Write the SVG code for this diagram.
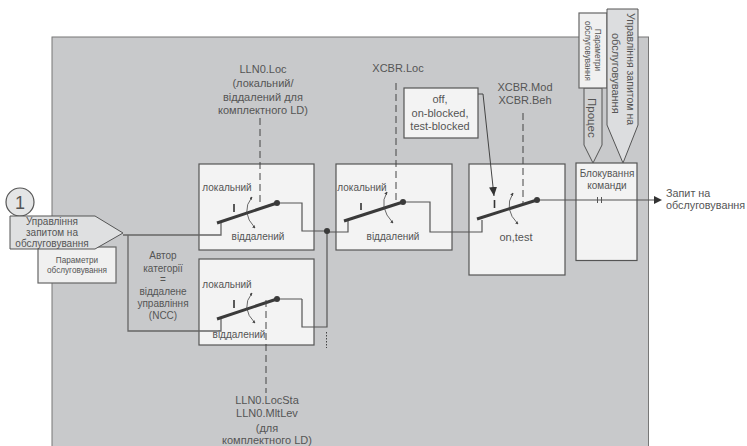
<svg xmlns="http://www.w3.org/2000/svg" width="747" height="446" viewBox="0 0 747 446">
<style>
text{font-family:"Liberation Sans",Arial,sans-serif;font-size:11px;fill:#555;text-anchor:middle}
.b{font-size:10px}
.s{font-size:8.200px}
.box{fill:#f3f3f3;stroke:#555;stroke-width:1.2}
.w{fill:none;stroke:#555;stroke-width:1.2}
.dash{fill:none;stroke:#444;stroke-width:1;stroke-dasharray:7 4}
.blade{stroke:#3a3a3a;stroke-width:3;fill:none}
.dot{fill:#3a3a3a}
.arc{fill:none;stroke:#444;stroke-width:.8;marker-start:url(#sa);marker-end:url(#sa)}
.bar{stroke:#333;stroke-width:1.6}
</style>
<defs>
<marker id="sa" viewBox="0 0 6 6" refX="5" refY="3" markerWidth="4" markerHeight="4" orient="auto-start-reverse"><path d="M0 0L6 3L0 6Z" fill="#444"/></marker>
<marker id="big" viewBox="0 0 9 8" refX="9" refY="4" markerWidth="9" markerHeight="8" markerUnits="userSpaceOnUse" orient="auto"><path d="M0 0L9 4L0 8Z" fill="#333"/></marker>
</defs>
<rect id="panel" x="52" y="37" width="596.500" height="410" fill="#c8c9cb" stroke="#777" stroke-width="1"/>

<g id="box-loc"><rect class="box" x="199" y="164" width="115" height="86"/>
<text class="b" x="227" y="191">локальний</text><text class="b" x="258" y="240">віддалений</text></g>
<g id="box-ncc"><rect class="box" x="199" y="259" width="115" height="86"/>
<text class="b" x="227" y="288">локальний</text><text class="b" x="239" y="338">віддалений</text></g>
<g id="box-xcbr-loc"><rect class="box" x="336" y="164" width="116" height="86"/>
<text class="b" x="362" y="190.500">локальний</text><text class="b" x="393" y="240">віддалений</text></g>
<g id="box-mod"><rect class="box" x="469" y="164" width="96" height="111"/>
<text x="516" y="241">on,test</text></g>
<g id="box-block"><rect class="box" x="576" y="163" width="61" height="97.500"/>
<text class="b" x="607" y="177">Блокування</text><text class="b" x="607" y="188.500">команди</text></g>

<g id="connectors">
<path d="M123 235H221V223M128 235V331H221V319" fill="none" stroke="#666" stroke-width="1.300"/>
<path class="w" d="M277 203H302V231H327M302 299H277M302 299V327H327V231M327 232H348V221M403 202H430V232H482V220M537 200H654"/>
<path d="M654 196L662 200L654 204Z" fill="#333"/>
<path d="M597.500 197V203M601.500 197V203" stroke="#555" stroke-width="1" fill="none"/>
<path class="blade" d="M217 223L277 203"/><circle class="dot" cx="277" cy="203" r="3"/>
<path class="blade" d="M217 319L277 299"/><circle class="dot" cx="277" cy="299" r="3"/>
<path class="blade" d="M344 221L403 202"/><circle class="dot" cx="403" cy="202" r="3"/>
<path class="blade" d="M477 219L537 200"/><circle class="dot" cx="537" cy="200" r="3"/>
<circle class="dot" cx="327" cy="231" r="3"/>
<path class="bar" d="M234 204V212M234 300V308M361 203V210M494.500 200V208"/>
<path class="arc" d="M252 197Q240 212 255 228"/>
<path class="arc" d="M252 293Q240 308 255 323"/>
<path class="arc" d="M387 192Q378 207 393 223"/>
<path class="arc" d="M513 193Q503 209 518 224"/>
<path class="dash" d="M260 118V203"/>
<path class="dash" d="M266 300V393"/>
<path class="dash" d="M396 83V204"/>
<path class="dash" d="M523 113V204"/>
<path d="M326.500 332V348" fill="none" stroke="#444" stroke-width="1" stroke-dasharray="1.500 1.500"/>
<path d="M478 94H483L494 196" fill="none" stroke="#444" stroke-width="1" marker-end="url(#big)"/>
</g>

<g id="note-off"><rect x="404" y="88" width="74" height="50" fill="#f3f3f3" stroke="#555" stroke-width="1.200"/>
<text x="440" y="103">off,</text><text x="440" y="117">on-blocked,</text><text x="440" y="130">test-blocked</text></g>

<g id="label-lln0-loc"><text x="263" y="73">LLN0.Loc</text><text x="263" y="87">(локальний/</text><text x="263" y="101">віддалений для</text><text x="263" y="114">комплектного LD)</text></g>
<g id="label-xcbr-loc"><text x="398" y="72">XCBR.Loc</text></g>
<g id="label-xcbr-mod"><text x="525" y="91">XCBR.Mod</text><text x="525" y="104">XCBR.Beh</text></g>
<g id="label-lln0-locsta"><text x="267" y="404">LLN0.LocSta</text><text x="267" y="417">LLN0.MltLev</text><text x="267" y="432">(для</text><text x="267" y="444">комплектного LD)</text></g>
<g id="label-author"><text class="b" x="163" y="259">Автор</text><text class="b" x="163" y="272">категорії</text><text class="b" x="163" y="283">=</text><text class="b" x="163" y="295">віддалене</text><text class="b" x="163" y="307">управління</text><text class="b" x="163" y="319">(NCC)</text></g>

<g id="circle-1"><circle cx="20" cy="202" r="14" fill="#e4e5e6" stroke="#555" stroke-width="1.200"/><text x="20" y="208.500" style="font-size:18px">1</text></g>
<g id="params-in"><rect x="38" y="247" width="78" height="36" fill="#f0f0f0" stroke="#666" stroke-width="1.200"/><text class="s" x="77" y="263">Параметри</text><text class="s" x="77" y="273">обслуговування</text></g>
<g id="pentagon-in"><path d="M10 216H95L123 233L95 249H10Z" fill="#dfe0e1" stroke="#555" stroke-width="1"/><text class="b" x="52" y="225">Управління</text><text class="b" x="52" y="236">запитом на</text><text class="b" x="52" y="247">обслуговування</text></g>

<g id="proc"><path d="M584 88H602V145L593 163L584 145Z" fill="#d0d1d2" stroke="#555"/><text transform="translate(588 98) rotate(90)" style="font-size:11.500px;text-anchor:start">Процес</text></g>
<g id="params-top"><rect x="579" y="13" width="28" height="75" fill="#f0f0f0" stroke="#666" stroke-width="1.200"/><text class="s" transform="translate(595 50) rotate(90)">Параметри</text><text class="s" transform="translate(585 51) rotate(90)">обслуговування</text></g>
<g id="pent-top"><path d="M607 9H638V125L623 163L607 125Z" fill="#dcdddf" stroke="#555"/><text transform="translate(627 13) rotate(90)" style="font-size:10.500px;text-anchor:start">Управління запитом на</text><text transform="translate(612 33) rotate(90)" style="font-size:11px;text-anchor:start">обслуговування</text></g>

<g id="label-out"><text x="666" y="197" style="text-anchor:start;font-size:10.800px">Запит на</text><text x="666" y="209" style="text-anchor:start;font-size:10.800px">обслуговування</text></g>
</svg>
